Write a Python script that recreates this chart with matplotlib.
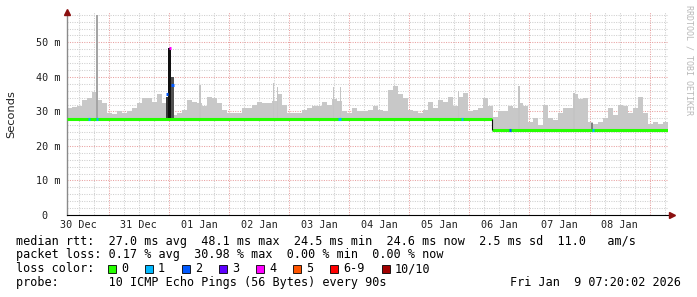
import numpy as np
import matplotlib
matplotlib.use("Agg")
import matplotlib.pyplot as plt
from matplotlib.patches import Rectangle
from datetime import datetime, timedelta

# ---------------- data ----------------
start = datetime(2025, 12, 30, 7, 20, 2)
span_hours = 240.0
bin_hours = 2.0

# upper edge of the smoke (ms), one value per 2-hour bin
smoke_top = [
    31.0, 31.4, 31.5, 33.3, 34.0, 35.5, 33.3, 32.5, 29.5, 29.3,
    30.0, 29.5, 30.0, 30.9, 32.4, 34.0, 34.0, 32.8, 35.0, 32.4,
    29.0, 29.0, 29.5, 30.5, 33.3, 32.8, 32.5, 31.5, 34.3, 34.0,
    32.4, 30.5, 29.5, 29.5, 29.5, 31.0, 31.0, 32.0, 32.8, 32.5,
    32.4, 33.0, 35.0, 32.0, 29.5, 29.5, 29.5, 30.5, 31.0, 31.5,
    31.5, 32.8, 32.0, 33.5, 33.0, 30.0, 29.5, 31.0, 30.0, 30.0,
    30.4, 31.5, 30.4, 30.0, 36.2, 37.5, 35.0, 34.0, 30.4, 30.0,
    29.5, 30.4, 32.8, 31.0, 33.3, 32.8, 34.3, 31.5, 34.3, 35.4,
    30.0, 30.4, 31.0, 33.8, 31.5, 28.5, 30.0, 30.0, 31.5, 31.0,
    32.4, 31.5, 27.0, 28.0, 26.0, 32.0, 28.0, 27.5, 29.5, 31.0,
    31.0, 35.0, 33.5, 34.0, 27.0, 26.4, 27.0, 28.0, 31.0, 29.0,
    31.9, 31.5, 29.5, 31.0, 34.3, 29.5, 26.4, 27.0, 26.4, 27.0,
]

median_change_hours = [0.0, 169.6]
median_values = [27.9, 24.6]

narrow_spike_hours = [53.2, 82.4, 84.0, 106.4, 109.2, 156.4, 180.4, 202.4]
narrow_spike_tops = [37.8, 38.3, 37.0, 37.2, 37.0, 36.0, 37.4, 35.3]

outlier_hours = [11.8]
outlier_tops = [58.0]

dark_bar_hours = [39.9, 41.0, 42.1, 209.6]
dark_bar_tops = [34.3, 48.3, 40.1, 26.6]
dark_bar_shades = ['#383838', '#101010', '#505050', '#808080']

loss_hours = [8.8, 12.0, 39.9, 41.0, 42.1, 108.8, 157.6, 176.8, 210.0]
loss_values = [27.9, 27.9, 35.0, 48.3, 37.7, 27.9, 27.9, 24.6, 24.6]
loss_counts = [1, 1, 2, 4, 2, 1, 1, 2, 1]

loss_labels = ['0', '1', '2', '3', '4', '5', '6-9', '10/10']
loss_colors = ['#26ff00', '#00b8ff', '#0059ff', '#5e00ff', '#ff00ff',
               '#ff5500', '#ff0000', '#a10000']

day_labels = ['30 Dec', '31 Dec', '01 Jan', '02 Jan', '03 Jan',
              '04 Jan', '05 Jan', '06 Jan', '07 Jan', '08 Jan']
y_ticks = [0, 10, 20, 30, 40, 50]
y_tick_labels = ['0  ', '10 m', '20 m', '30 m', '40 m', '50 m']

legend_lines = [
    "median rtt:  27.0 ms avg  48.1 ms max  24.5 ms min  24.6 ms now  2.5 ms sd  11.0   am/s",
    "packet loss: 0.17 % avg  30.98 % max  0.00 % min  0.00 % now",
    "loss color:",
    "probe:       10 ICMP Echo Pings (56 Bytes) every 90s",
]
stamp = "Fri Jan  9 07:20:02 2026"
y_label = "Seconds"
watermark = "RRDTOOL / TOBI OETIKER"

# ---------------- figure ----------------
W, H = 697, 297
fig = plt.figure(figsize=(W / 100, H / 100), dpi=100)
fig.patch.set_facecolor('white')
ax_l, ax_r, ax_t, ax_b = 67, 668, 12, 215
ax = fig.add_axes([ax_l / W, 1 - ax_b / H, (ax_r - ax_l) / W, (ax_b - ax_t) / H])
ymax = 58.8
ax.set_xlim(0, span_hours)
ax.set_ylim(0, ymax)
ax.set_facecolor('white')


def hours_of(dt):
    return (dt - start).total_seconds() / 3600.0


def median_at(h):
    v = median_values[0]
    for ch, mv in zip(median_change_hours, median_values):
        if h >= ch:
            v = mv
    return v


# grid
first_midnight = datetime(2025, 12, 31)
mid_hours = [hours_of(first_midnight + timedelta(days=k)) for k in range(10)]
six_hours = []
t = datetime(2025, 12, 30, 12)
while hours_of(t) <= span_hours:
    if t.hour != 0:
        six_hours.append(hours_of(t))
    t += timedelta(hours=6)
ax.vlines(six_hours, 0, ymax, colors='#cfcfcf', linewidth=0.75,
          linestyles=(0, (1, 1.3)), zorder=0.5)
ax.vlines(mid_hours, 0, ymax, colors='#e8a0a0', linewidth=0.75,
          linestyles=(0, (1, 1.3)), zorder=0.6)
minor_y = [v for v in np.arange(2, ymax, 2) if v % 10 != 0]
ax.hlines(minor_y, 0, span_hours, colors='#cfcfcf', linewidth=0.75,
          linestyles=(0, (1, 1.3)), zorder=0.5)
ax.hlines([10, 20, 30, 40, 50], 0, span_hours, colors='#e8a0a0', linewidth=0.75,
          linestyles=(0, (1, 1.3)), zorder=0.6)

# smoke
bin_starts = np.arange(len(smoke_top)) * bin_hours
bases = np.array([median_at(h + bin_hours / 2) - 0.4 for h in bin_starts])
tops = np.array(smoke_top)
ax.bar(bin_starts, tops - bases, bottom=bases, width=bin_hours, align='edge',
       color='#c8c8c8', linewidth=0, zorder=1)
sb = np.array([median_at(h) for h in narrow_spike_hours])
ax.bar(narrow_spike_hours, np.array(narrow_spike_tops) - sb, bottom=sb, width=0.6,
       color='#c4c4c4', linewidth=0, zorder=1.1)
ob = np.array([median_at(h) for h in outlier_hours])
ax.bar(outlier_hours, np.array(outlier_tops) - ob, bottom=ob, width=0.8,
       color='#a4a4a4', linewidth=0, zorder=1.2)
db = np.array([median_at(h) for h in dark_bar_hours])
ax.bar(dark_bar_hours, np.array(dark_bar_tops) - db, bottom=db, width=1.05,
       color=dark_bar_shades, linewidth=0, zorder=2)

# median line
ends = median_change_hours[1:] + [span_hours]
for s, e, v in zip(median_change_hours, ends, median_values):
    ax.hlines(v, s, e, colors=loss_colors[0], linewidth=2.2, zorder=3)
for i in range(1, len(median_values)):
    ax.vlines(median_change_hours[i], median_values[i], median_values[i - 1],
              colors='#101010', linewidth=0.8, zorder=3.1)
for h, v, c in zip(loss_hours, loss_values, loss_counts):
    ax.hlines(v, h - 0.45, h + 0.45, colors=loss_colors[c], linewidth=2.2, zorder=4)

# axes styling
for s in ['top', 'right']:
    ax.spines[s].set_visible(False)
ax.spines['left'].set_color('#8a8a8a')
ax.spines['left'].set_linewidth(1.0)
ax.spines['bottom'].set_color('#000000')
ax.spines['bottom'].set_linewidth(0.8)
ax.plot([0], [1.0], marker='^', markersize=4, color='#8b1010',
        transform=ax.transAxes, clip_on=False, zorder=6)
ax.plot([1.006], [0.0], marker='>', markersize=4, color='#8b1010',
        transform=ax.transAxes, clip_on=False, zorder=6)

mono = 'DejaVu Sans Mono'
noon_hours = [hours_of(datetime(2025, 12, 30, 12) + timedelta(days=k))
              for k in range(len(day_labels))]
ax.set_xticks(noon_hours)
ax.set_xticklabels(day_labels, fontfamily=mono, fontsize=7.3, color='#202020')
ax.set_yticks(y_ticks)
ax.set_yticklabels(y_tick_labels, fontfamily=mono, fontsize=7.3, color='#202020')
ax.tick_params(axis='x', length=0, pad=3.6)
ax.tick_params(axis='y', length=0, pad=5)

# overlay in pixel coordinates for the text block
ov = fig.add_axes([0, 0, 1, 1])
ov.set_xlim(0, W)
ov.set_ylim(H, 0)
ov.axis('off')
ov.patch.set_alpha(0)

ov.text(11, 114, y_label, rotation=90, ha='center', va='center',
        fontfamily='DejaVu Sans', fontsize=8.2, color='#202020')
ov.text(688.5, 5, watermark, rotation=-90, ha='center', va='top',
        fontfamily=mono, fontsize=6, color='#b8b8b8')

fs = 8.5
baselines = [244.7, 258.4, 272.1, 285.8]
for line, yb in zip(legend_lines, baselines):
    ov.text(16, yb, line, ha='left', va='baseline', fontfamily=mono,
            fontsize=fs, color='#000000')
ov.text(681, baselines[3], stamp, ha='right', va='baseline', fontfamily=mono,
        fontsize=fs, color='#000000')

box_x = [108, 145, 182, 219, 256, 293, 330, 382]
for bx, lab, col in zip(box_x, loss_labels, loss_colors):
    ov.add_patch(Rectangle((bx, 265), 8, 8, facecolor=col, edgecolor='#000000',
                           linewidth=0.6))
    ov.text(bx + 13, baselines[2], lab, ha='left', va='baseline', fontfamily=mono,
            fontsize=fs, color='#000000')

fig.savefig('out.png', dpi=100, facecolor='white')
